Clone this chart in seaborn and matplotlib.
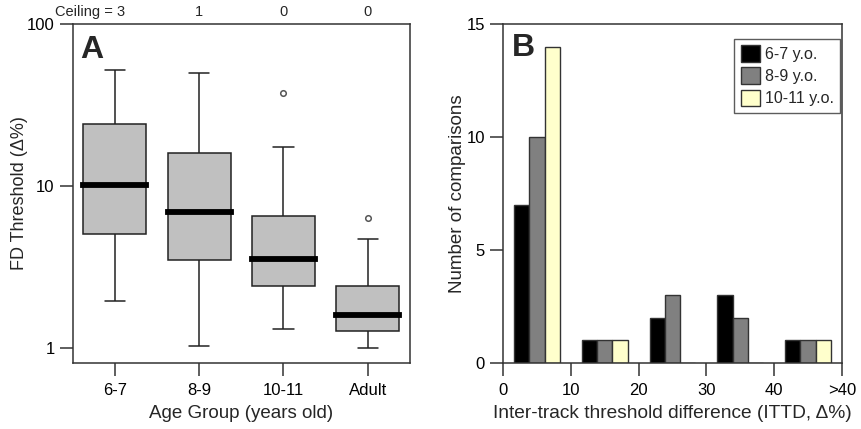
import numpy as np
import pandas as pd
import matplotlib
matplotlib.use("Agg")
import matplotlib.pyplot as plt
from matplotlib.ticker import FixedLocator, NullLocator
import seaborn as sns

# ---------------- data ----------------
groups = ["6-7", "8-9", "10-11", "Adult"]
ceiling_labels = ["Ceiling = 3", "1", "0", "0"]
lower_whisker = [1.95, 1.03, 1.31, 1.00]
q1_vals = [5.06, 3.46, 2.41, 1.26]
median_vals = [10.1, 6.9, 3.53, 1.59]
q3_vals = [24.2, 16.0, 6.54, 2.39]
upper_whisker = [51.9, 49.5, 17.3, 4.66]
outlier_groups = ["10-11", "Adult"]
outlier_vals = [37.6, 6.29]

bin_centers = [5, 15, 25, 35, 45]
bin_tick_pos = [0, 10, 20, 30, 40, 50]
bin_tick_labels = ["0", "10", "20", "30", "40", ">40"]
age_labels = ["6-7 y.o.", "8-9 y.o.", "10-11 y.o."]
counts_67 = [7, 1, 2, 3, 1]
counts_89 = [10, 1, 3, 2, 1]
counts_1011 = [14, 1, 0, 0, 1]
bar_colors = ["#000000", "#808080", "#FFFFCC"]

# ---------------- style ----------------
sns.set_style("ticks")
plt.rcParams["font.family"] = ["Liberation Sans", "DejaVu Sans"]
plt.rcParams["axes.edgecolor"] = "#333333"
plt.rcParams["axes.linewidth"] = 1.1
plt.rcParams["xtick.color"] = "#333333"
plt.rcParams["ytick.color"] = "#333333"
plt.rcParams["xtick.labelcolor"] = "black"
plt.rcParams["ytick.labelcolor"] = "black"

fig = plt.figure(figsize=(8.62, 4.29), dpi=100)
ax1 = fig.add_axes([0.0843, 0.1545, 0.3913, 0.7895])
ax2 = fig.add_axes([0.5835, 0.1545, 0.3933, 0.7895])

# ---------------- panel A ----------------
rows = []
for g, a, b, c, d, e in zip(groups, lower_whisker, q1_vals, median_vals, q3_vals, upper_whisker):
    for v in (a, b, c, d, e):
        rows.append({"group": g, "value": v})
dfa = pd.DataFrame(rows)
dfo = pd.DataFrame({"group": outlier_groups, "value": outlier_vals})

sns.boxplot(data=dfa, x="group", y="value", order=groups, whis=(0, 100),
            log_scale=True, width=0.75, color="#C0C0C0", linecolor="#222222",
            linewidth=1.1, showfliers=False,
            medianprops=dict(color="black", linewidth=4.2, solid_capstyle="projecting"),
            ax=ax1)
# narrower whisker caps
for ln in ax1.lines:
    xd = np.asarray(ln.get_xdata(), dtype=float)
    yd = np.asarray(ln.get_ydata(), dtype=float)
    if len(xd) == 2 and yd[0] == yd[1] and ln.get_linewidth() < 2:
        c = xd.mean()
        ln.set_xdata([c - 0.12, c + 0.12])

sns.stripplot(data=dfo, x="group", y="value", order=groups, jitter=False,
              color="white", edgecolor="#555555", linewidth=1.1, size=4, ax=ax1)

ax1.set_yscale("log")
ax1.set_ylim(0.807, 100)
ax1.set_xlim(-0.5, 3.5)
ax1.yaxis.set_major_locator(FixedLocator([1, 10, 100]))
ax1.set_yticklabels(["1", "10", "100"])
ax1.yaxis.set_minor_locator(NullLocator())
ax1.set_xticks(range(len(groups)))
ax1.set_xticklabels(groups)
ax1.tick_params(axis="both", length=9.5, width=1.1, labelsize=12, direction="out")
ax1.tick_params(axis="x", pad=5)
ax1.set_xlabel("Age Group (years old)", fontsize=13.5, labelpad=5)
ax1.set_ylabel("FD Threshold (Δ%)", fontsize=13, labelpad=-1)
for s in ax1.spines.values():
    s.set_visible(True)
ax1.text(0.022, 0.967, "A", transform=ax1.transAxes, fontsize=23,
         fontweight="bold", ha="left", va="top")
for i, lab in enumerate(ceiling_labels):
    ax1.text(0.12 if i == 0 else i, 1.036, lab,
             transform=ax1.get_xaxis_transform(),
             ha="right" if i == 0 else "center", va="center", fontsize=10.5)

# ---------------- panel B ----------------
brows = []
for lab, vals in zip(age_labels, [counts_67, counts_89, counts_1011]):
    for x, v in zip(bin_centers, vals):
        brows.append({"bin": x, "count": v, "age": lab})
dfb = pd.DataFrame(brows)

sns.barplot(data=dfb, x="bin", y="count", hue="age", hue_order=age_labels,
            native_scale=True, width=0.675, palette=bar_colors,
            edgecolor="#333333", linewidth=1.0, errorbar=None,
            saturation=1, ax=ax2)
ax2.set_xlim(0, 50)
ax2.set_ylim(0, 15)
ax2.set_xticks(bin_tick_pos)
ax2.set_xticklabels(bin_tick_labels)
ax2.set_yticks([0, 5, 10, 15])
ax2.tick_params(axis="both", length=9.5, width=1.1, labelsize=12, direction="out")
ax2.tick_params(axis="x", pad=5)
ax2.set_xlabel("Inter-track threshold difference (ITTD, Δ%)", fontsize=13.8, labelpad=5)
ax2.set_ylabel("Number of comparisons", fontsize=13.5, labelpad=0)
for s in ax2.spines.values():
    s.set_visible(True)
ax2.text(0.027, 0.973, "B", transform=ax2.transAxes, fontsize=23,
         fontweight="bold", ha="left", va="top")
leg = ax2.legend(loc="upper right", bbox_to_anchor=(0.994, 0.956),
                 borderaxespad=0, frameon=True, fancybox=False,
                 edgecolor="#333333", fontsize=11.5, handlelength=1.2,
                 handleheight=1.2, handletextpad=0.3, labelspacing=0.35,
                 borderpad=0.4, title=None)
leg.get_frame().set_linewidth(1.0)

fig.savefig("out.png", dpi=100)
